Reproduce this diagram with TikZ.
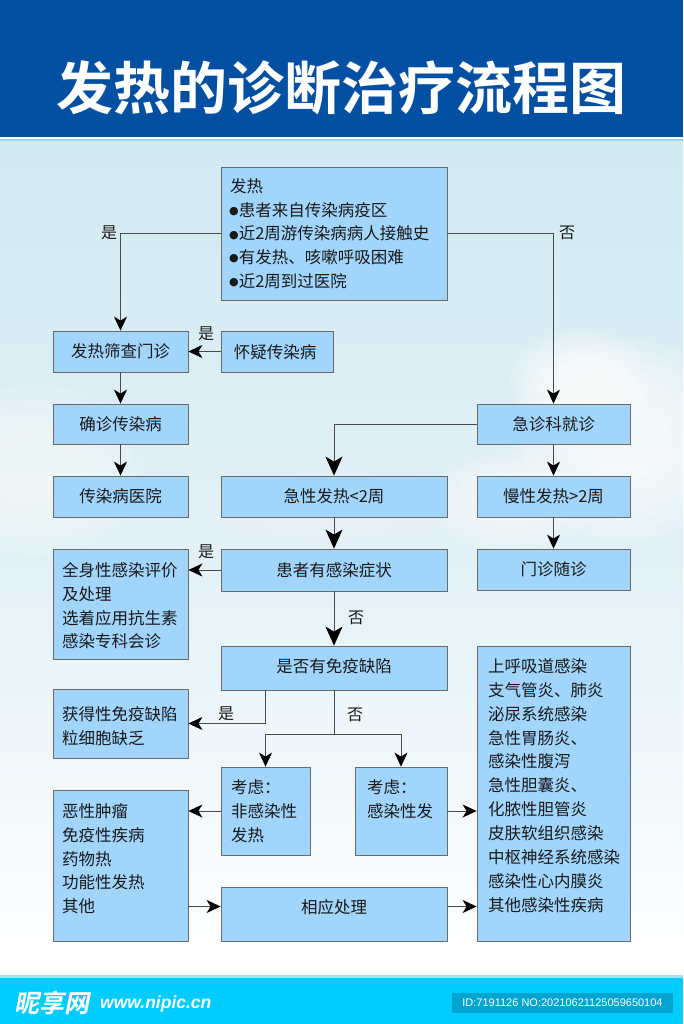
\documentclass[tikz,border=0pt]{standalone}
\usepackage{fontspec}
\setmainfont{Noto Sans CJK SC}[BoldFont=* Bold]
\newfontfamily\dejavu{DejaVu Sans}
\newfontfamily\latinsans{Liberation Sans}
\newfontfamily\wmfont{Noto Sans CJK SC}[UprightFont=* Bold, FakeSlant=0.2]
\usetikzlibrary{arrows.meta,shadows}
\definecolor{headblue}{HTML}{034FA2}
\definecolor{boxfill}{HTML}{A1D5FC}
\definecolor{boxline}{HTML}{6B6B6B}
\definecolor{conn}{HTML}{4A4A4A}
\definecolor{bgtop}{HTML}{D2EAF2}
\definecolor{bgmid}{HTML}{E3F1F6}
\definecolor{footcyan}{HTML}{00CCFF}
\definecolor{footdark}{HTML}{00A4CF}
\definecolor{textdark}{HTML}{1A1A1A}
\tikzset{
  box/.style={draw=boxline, fill=boxfill, line width=0.8pt, inner sep=0pt,
    drop shadow={shadow xshift=1pt, shadow yshift=-1.2pt, fill=black, opacity=0.3}},
  txt/.style={inner sep=0pt, text=textdark, font=\fontsize{16.5}{20}\selectfont},
  lbl/.style={inner sep=0pt, text=textdark, font=\fontsize{16}{20}\selectfont},
  link/.style={draw=conn, line width=0.9pt},
  arr/.style={link, -{Stealth[length=14pt, width=13pt, inset=4pt, color=black]}},
  bigarr/.style={link, -{Stealth[length=19pt, width=17pt, inset=5pt, color=black]}},
}
\newcommand\mkbox[5]{\node[box, minimum width={#4-#2}, minimum height={#5-#3}] (#1) at ({(#2+#4)/2},{(#3+#5)/2}) {};}
\newcommand\txtlines[4]{\foreach \t [count=\i] in {#4} {\node[txt, anchor=west] (#1-\i) at (#2,{#3+23.9*(\i-1)}) {\t};}}
\begin{document}
\begin{tikzpicture}[x=1pt, y=-1pt]
\useasboundingbox (0,0) rectangle (683,1024);
% background
\shade[top color=bgtop, bottom color=bgmid] (0,141) rectangle (683,560);
\shade[top color=bgmid, bottom color=white] (0,560) rectangle (683,975);
\foreach \s in {1.0,0.9,0.8,0.7,0.6,0.5,0.4} {
  \fill[white, opacity=0.16] (625,440) ellipse ({115*\s} and {100*\s});
  \fill[white, opacity=0.16] (580,380) ellipse ({70*\s} and {50*\s});
  \fill[white, opacity=0.12] (510,500) ellipse ({80*\s} and {50*\s});
  \fill[white, opacity=0.10] (35,470) ellipse ({110*\s} and {85*\s});
  \fill[white, opacity=0.06] (330,505) ellipse ({150*\s} and {40*\s});
}
% header
\fill[headblue] (0,0) rectangle (683,137.5);
\fill[white] (0,137.5) rectangle (683,139.5);
\fill[cyan!45] (0,139.5) rectangle (683,141);
\node[inner sep=0pt, text=white, font=\fontsize{57}{57}\selectfont\bfseries] (title) at (341.5,88) {发热的诊断治疗流程图};
% footer
\fill[white] (0,942) rectangle (683,975);
\fill[cyan!35] (0,975) rectangle (683,978);
\fill[footcyan] (0,978) rectangle (683,1024);
\node[inner sep=0pt, anchor=west, text=white, font=\wmfont\fontsize{25}{25}\selectfont] (wm1) at (14,1003) {昵享网};
\node[inner sep=0pt, anchor=west, text=white, font=\latinsans\bfseries\itshape\fontsize{17.5}{17.5}\selectfont] (wm2) at (100,1004) {www.nipic.cn};
\fill[footdark] (452,993) rectangle (673,1013);
\node[inner sep=0pt, text=white, font=\latinsans\fontsize{11}{11}\selectfont] (wmid) at (562.5,1003) {ID:7191126 NO:20210621125059650104};
% boxes
\mkbox{top}{221}{167}{447}{300}
\mkbox{scr}{53}{331}{188}{372}
\mkbox{sus}{221}{331}{333}{372}
\mkbox{conf}{53}{404}{188}{444}
\mkbox{hosp}{53}{476}{188}{517}
\mkbox{er}{477}{404}{630}{444}
\mkbox{acute}{221}{476}{447}{517}
\mkbox{chron}{477}{476}{630}{517}
\mkbox{symp}{221}{549}{447}{591}
\mkbox{clinic}{477}{549}{630}{590}
\mkbox{sys}{53}{549}{188}{659}
\mkbox{immu}{221}{646}{447}{690}
\mkbox{resp}{477}{646}{630}{941}
\mkbox{acq}{53}{689}{188}{758}
\mkbox{noninf}{221}{767}{310}{855}
\mkbox{inf}{355}{767}{447}{855}
\mkbox{mal}{53}{790}{188}{941}
\mkbox{proc}{221}{887}{447}{941}
% texts
\node[txt, anchor=west] (t-top-0) at (230,186) {发热};
\foreach \t/\yy [count=\i] in {患者来自传染病疫区/210, 近2周游传染病病人接触史/233.5, 有发热、咳嗽呼吸困难/257, 近2周到过医院/281} {
  \node[txt, anchor=west] (t-top-\i) at (229,\yy) {\raisebox{1.5pt}{\dejavu\fontsize{11}{11}\selectfont ●}\t};
}
\node[txt] (t-scr) at (scr) {发热筛查门诊};
\node[txt] (t-sus) at (275,352) {怀疑传染病};
\node[txt] (t-conf) at (conf) {确诊传染病};
\node[txt] (t-hosp) at (hosp) {传染病医院};
\node[txt] (t-er) at (er) {急诊科就诊};
\node[txt] (t-acute) at (acute) {急性发热<2周};
\node[txt] (t-chron) at (chron) {慢性发热>2周};
\node[txt] (t-symp) at (symp) {患者有感染症状};
\node[txt] (t-clinic) at (clinic) {门诊随诊};
\node[txt] (t-immu) at (334,666) {是否有免疫缺陷};
\node[txt] (t-proc) at (334,907) {相应处理};
\txtlines{t-sys}{62}{570}{全身性感染评价, 及处理, 选着应用抗生素, 感染专科会诊}
\txtlines{t-acq}{62}{714}{获得性免疫缺陷, 粒细胞缺乏}
\txtlines{t-noninf}{231}{787}{考虑：, 非感染性, 发热}
\txtlines{t-inf}{367}{787}{考虑：, 感染性发}
\txtlines{t-mal}{62}{811}{恶性肿瘤, 免疫性疾病, 药物热, 功能性发热, 其他}
\txtlines{t-resp}{488}{666}{上呼吸道感染, 支气管炎、肺炎, 泌尿系统感染, 急性胃肠炎、, 感染性腹泻, 急性胆囊炎、, 化脓性胆管炎, 皮肤软组织感染, 中枢神经系统感染, 感染性心内膜炎, 其他感染性疾病}
% labels
\node[lbl] (l1) at (109,233) {是};
\node[lbl] (l2) at (567,233) {否};
\node[lbl] (l3) at (206,334) {是};
\node[lbl] (l4) at (206,552) {是};
\node[lbl] (l5) at (356,618) {否};
\node[lbl] (l6) at (226,714) {是};
\node[lbl] (l7) at (355,715) {否};
% connectors
\draw[arr] (top.west) -| (scr.north);
\draw[arr] (top.east) -| (er.north);
\draw[arr] (sus.west) -- (scr.east);
\draw[arr] (scr.south) -- (conf.north);
\draw[arr] (conf.south) -- (hosp.north);
\draw[bigarr] (er.west) -| (acute.north);
\draw[arr] (er.south) -- (chron.north);
\draw[arr] (chron.south) -- (clinic.north);
\draw[bigarr] (acute.south) -- (symp.north);
\draw[arr] (symp.west) -- (symp.west -| sys.east);
\draw[bigarr] (symp.south) -- (immu.north);
\draw[arr] ([xshift=-69pt]immu.south) |- (acq.east);
\coordinate (jn) at (334,734);
\draw[link] (immu.south) -- (jn);
\draw[arr] (jn) -| (noninf.north);
\draw[arr] (jn) -| (inf.north);
\draw[arr] (noninf.west) -- (noninf.west -| mal.east);
\draw[arr] (inf.east) -- (inf.east -| resp.west);
\coordinate (pp) at ([yshift=7.5pt]proc.west);
\draw[arr] (pp -| mal.east) -- (pp);
\draw[arr] ([yshift=7.5pt]proc.east) -- ([yshift=7.5pt]proc.east -| resp.west);
\end{tikzpicture}
\end{document}
